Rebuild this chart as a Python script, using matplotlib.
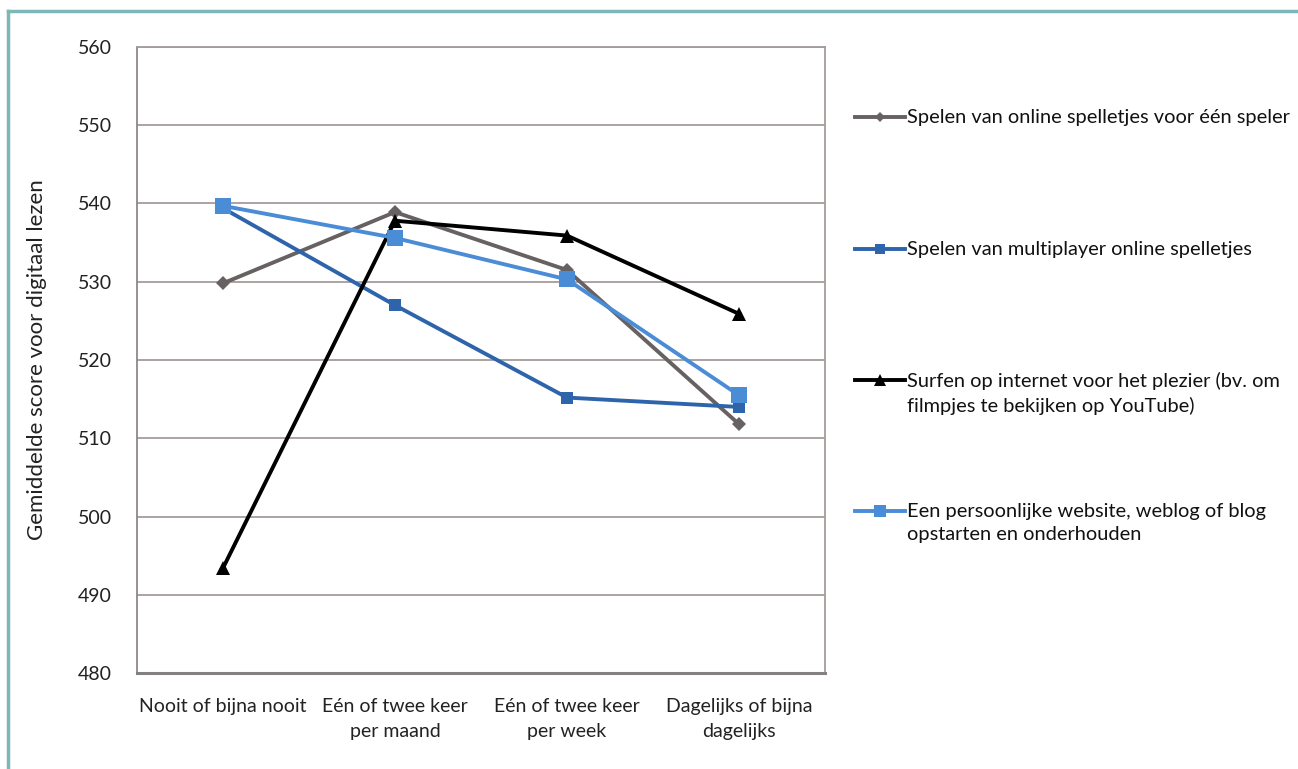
import matplotlib.pyplot as plt
from matplotlib.lines import Line2D

plt.rcParams['font.family'] = ['Lato', 'DejaVu Sans']

categories = ["Nooit of bijna nooit", "Eén of twee keer\nper maand",
              "Eén of twee keer\nper week", "Dagelijks of bijna\ndagelijks"]
series_names = ["Spelen van online spelletjes voor één speler",
                "Spelen van multiplayer online spelletjes",
                "Surfen op internet voor het plezier (bv. om\nfilmpjes te bekijken op YouTube)",
                "Een persoonlijke website, weblog of blog\nopstarten en onderhouden"]
single_player = [529.8, 538.9, 531.5, 511.8]
multiplayer = [539.4, 527.0, 515.2, 514.0]
surfen = [493.4, 537.8, 535.9, 525.9]
website = [539.7, 535.6, 530.3, 515.5]

values = [single_player, multiplayer, surfen, website]
colors = ["#676162", "#2e64ab", "#000000", "#4a8cd6"]
markers = ["D", "s", "^", "s"]
msizes = [7, 9, 10, 11]

fig = plt.figure(figsize=(12.98, 7.69), dpi=100)
ax = fig.add_axes([0.1055, 0.1248, 0.5301, 0.8141])

x = list(range(len(categories)))
for vals, c, m, ms in zip(values, colors, markers, msizes):
    ax.plot(x, vals, color=c, lw=2.8, marker=m, markersize=ms,
            markeredgewidth=0, zorder=3)

ax.set_xlim(-0.5, 3.5)
ax.set_ylim(480, 560)
ax.set_yticks(range(480, 561, 10))
ax.set_xticks(x)
ax.set_xticklabels(categories, fontsize=14, color="#222222", linespacing=1.6)
ax.tick_params(axis='y', labelsize=14, labelcolor="#222222", length=0, pad=18)
ax.tick_params(axis='x', length=0, pad=18)
ax.grid(axis='y', color="#a59c9a", lw=1.3)
ax.set_axisbelow(True)
for s in ax.spines.values():
    s.set_color("#a59c9a")
    s.set_linewidth(1.3)
ax.spines['bottom'].set_color("#858080")
ax.spines['bottom'].set_linewidth(2.2)
ax.spines['left'].set_color("#8f8888")
ax.set_ylabel("Gemiddelde score voor digitaal lezen", fontsize=16,
              color="#222222", labelpad=22)

# legend drawn entry by entry, handle aligned with first text line
W, H = 1298, 769
leg_y = [117, 249, 380, 511]
for name, c, m, ms, yy in zip(series_names, colors, markers, msizes, leg_y):
    yf = 1 - yy / H
    fig.add_artist(Line2D([855 / W, 905 / W], [yf, yf], color=c, lw=2.8,
                          transform=fig.transFigure))
    fig.add_artist(Line2D([880 / W], [yf], color=c, marker=m,
                          markersize=ms * 0.8, markeredgewidth=0,
                          transform=fig.transFigure))
    fig.text(907 / W, yf + 8 / H, name, fontsize=14.4, color="#111111",
             va='top', ha='left', linespacing=1.45,
             transform=fig.transFigure)

# teal page frame (top and left edges)
fig.add_artist(Line2D([8 / W, 1.0], [1 - 11 / H, 1 - 11 / H], color="#7db7b9",
                      lw=2.5, transform=fig.transFigure))
fig.add_artist(Line2D([8 / W, 8 / W], [0, 1 - 11 / H], color="#7db7b9",
                      lw=2.5, transform=fig.transFigure))

fig.savefig("out.png", dpi=100)
